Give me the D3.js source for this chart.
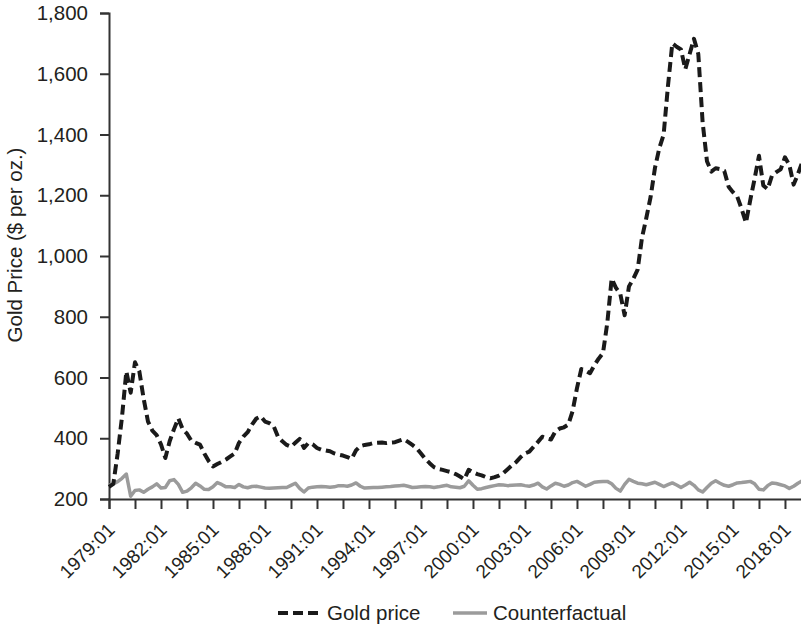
<!DOCTYPE html>
<html>
<head>
<meta charset="utf-8">
<script src="https://cdn.jsdelivr.net/npm/d3@7"></script>
<style>
  body { margin: 0; background: #fff; }
  svg { display: block; font-family: "Liberation Sans", Arial, sans-serif; }
  .axis text { fill: #231f20; }
</style>
</head>
<body>
<div id="chart"></div>
<script>
  "use strict";

  // quarterly series, first point 1979:01
  var startYear = 1979;
  var goldPrice = [
    240, 250, 350, 470, 620, 550, 650, 620, 530, 455, 425, 410,
    380, 335, 390, 430, 466, 430, 415, 392, 385, 379, 350, 325,
    307, 315, 322, 330, 340, 350, 385, 405, 420, 445, 465, 472,
    455, 450, 440, 405, 390, 378, 372, 385, 398, 368, 384, 380,
    368, 362, 360, 357, 350, 346, 343, 338, 332, 360, 374, 378,
    380, 384, 385, 386, 384, 386, 387, 392, 397, 388, 378, 367,
    350, 332, 318, 305, 299, 296, 292, 288, 282, 274, 265, 296,
    288, 282, 278, 272, 268, 272, 277, 285, 298, 311, 322, 338,
    350, 356, 372, 388, 405, 400, 396, 422, 432, 436, 445, 490,
    565, 628, 622, 614, 640, 662, 680, 780, 925, 895, 875, 805,
    900, 925, 955, 1060, 1125, 1195, 1290, 1355, 1400, 1560, 1700, 1689,
    1680, 1615, 1665, 1715, 1665, 1440, 1312, 1278, 1289, 1286, 1280, 1228,
    1210, 1195, 1155, 1110, 1185, 1255, 1330, 1232, 1220, 1265, 1276, 1285,
    1325, 1300, 1235, 1270, 1310
  ];
  var counterfactual = [
    245, 250, 257, 268, 282, 209, 228, 230, 222, 232, 240, 250,
    236, 238, 260, 264, 248, 222, 226, 237, 252, 243, 232, 231,
    240, 254, 248, 240, 240, 238, 248, 240, 237, 241, 242, 239,
    236, 235, 236, 237, 238, 238, 245, 252, 235, 223, 236, 239,
    240, 241, 240, 239, 240, 244, 244, 242, 246, 253, 242, 236,
    237, 238, 238, 239, 240, 241, 243, 244, 245, 242, 238, 239,
    240, 241, 240, 238, 240, 243, 245, 240, 239, 237, 242, 260,
    245, 232, 234, 238, 241, 244, 247, 246, 244, 245, 246, 247,
    244, 242, 246, 252, 240, 233, 243, 252, 248, 242, 246, 254,
    258, 250, 242, 248, 255, 257, 258, 258, 250, 235, 226, 248,
    265, 258, 252, 250, 247, 251, 255, 248, 241, 247, 253, 246,
    238, 246, 255, 245, 230, 223, 238, 252, 260, 252, 245, 242,
    247, 253, 254, 256, 258, 250, 232, 230, 244, 253, 251, 247,
    243, 235, 242, 252, 260
  ];
  var yTicks = [200, 400, 600, 800, 1000, 1200, 1400, 1600, 1800];
  var xTickLabels = ["1979:01", "1982:01", "1985:01", "1988:01", "1991:01",
    "1994:01", "1997:01", "2000:01", "2003:01", "2006:01", "2009:01",
    "2012:01", "2015:01", "2018:01"];
  var seriesNames = ["Gold price", "Counterfactual"];

  var width = 801, height = 634;
  var margin = {left: 109, top: 13, bottom: 135};

  var svg = d3.select("#chart")
    .append("svg")
    .attr("width", width)
    .attr("height", height);

  var x = d3.scaleLinear()
    .domain([1979, 2019])
    .range([margin.left, 802.3]);

  var y = d3.scaleLinear()
    .domain([200, 1800])
    .range([height - margin.bottom, margin.top]);

  var year = function(i) { return startYear + i / 4; };

  // Axes
  var yAxis = svg.append("g")
    .attr("class", "axis")
    .attr("transform", "translate(" + margin.left + ",0)")
    .call(d3.axisLeft(y).tickValues(yTicks).tickSize(9).tickPadding(12)
      .tickFormat(d3.format(",")));

  var tickYears = d3.range(1979, 2018.01, 1.5);
  svg.append("g")
    .attr("class", "axis")
    .attr("transform", "translate(0," + y(200) + ")")
    .call(d3.axisBottom(x).tickValues(tickYears).tickSize(10).tickFormat(""));

  svg.selectAll(".axis path, .axis line")
    .attr("stroke", "#333")
    .attr("stroke-width", 2);
  yAxis.selectAll("text").style("font-size", "20.5px");

  // rotated x labels, every other tick
  svg.append("g")
    .attr("class", "axis")
    .selectAll("text")
    .data(xTickLabels)
    .enter()
    .append("text")
    .attr("transform", function(d, i) {
      return "translate(" + (x(1979 + i * 3) + 7) + "," + 531 + ") rotate(-45)";
    })
    .attr("text-anchor", "end")
    .style("font-size", "19px")
    .text(function(d) { return d; });

  // y title
  svg.append("text")
    .attr("transform", "translate(22," + 245 + ") rotate(-90)")
    .attr("text-anchor", "middle")
    .attr("fill", "#231f20")
    .style("font-size", "20.5px")
    .text("Gold Price ($ per oz.)");

  // Lines
  var line = d3.line()
    .x(function(d, i) { return x(year(i)); })
    .y(function(d) { return y(d); });

  svg.append("path")
    .datum(counterfactual)
    .attr("fill", "none")
    .attr("stroke", "#9b9b9b")
    .attr("stroke-width", 3.5)
    .attr("stroke-linejoin", "round")
    .attr("d", line);

  svg.append("path")
    .datum(goldPrice)
    .attr("fill", "none")
    .attr("stroke", "#1a1a1a")
    .attr("stroke-width", 4)
    .attr("stroke-dasharray", "10,5")
    .attr("stroke-linejoin", "round")
    .attr("d", line);

  // Legend
  var legend = svg.append("g").attr("transform", "translate(0,613)");
  legend.append("line")
    .attr("x1", 278).attr("x2", 320)
    .attr("stroke", "#1a1a1a").attr("stroke-width", 4)
    .attr("stroke-dasharray", "10,5");
  legend.append("text")
    .attr("x", 327).attr("dy", "0.35em")
    .attr("fill", "#231f20").style("font-size", "20.5px")
    .text(seriesNames[0]);
  legend.append("line")
    .attr("x1", 453).attr("x2", 487)
    .attr("stroke", "#9b9b9b").attr("stroke-width", 3.5);
  legend.append("text")
    .attr("x", 493).attr("dy", "0.35em")
    .attr("fill", "#231f20").style("font-size", "20.5px")
    .text(seriesNames[1]);
</script>
</body>
</html>
